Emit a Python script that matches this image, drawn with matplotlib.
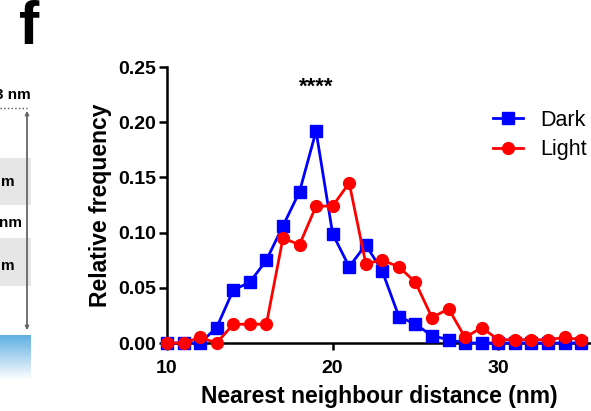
import numpy as np
import matplotlib
matplotlib.use("Agg")
from matplotlib import pyplot as plt
from matplotlib.patches import Rectangle, FancyArrowPatch

plt.rcParams['font.family'] = ['Liberation Sans', 'DejaVu Sans']

# nearest neighbour distance (nm) and relative frequencies
distance = list(range(10, 36))
dark = [0, 0, 0, 0.014, 0.048, 0.055, 0.075, 0.106, 0.137, 0.192,
        0.099, 0.069, 0.089, 0.065, 0.024, 0.017, 0.0066, 0.003, 0, 0,
        0, 0, 0, 0, 0, 0]
light = [0, 0, 0.005, 0, 0.017, 0.017, 0.017, 0.095, 0.089, 0.124,
         0.124, 0.145, 0.072, 0.075, 0.069, 0.055, 0.023, 0.031, 0.005, 0.014,
         0.003, 0.003, 0.003, 0.003, 0.005, 0.003]
series_names = ['Dark', 'Light']
xticks = [10, 20, 30]
yticks = [0.00, 0.05, 0.10, 0.15, 0.20, 0.25]

W, H = 591, 411
fig = plt.figure(figsize=(W / 100, H / 100), dpi=100)

# ---- left partial panel (cropped schematic) ----
bg = fig.add_axes([0, 0, 1, 1])
bg.set_xlim(0, W)
bg.set_ylim(H, 0)
bg.axis('off')
bg.add_patch(Rectangle((0, 158), 31, 47, color='#e6e6e6', lw=0))
bg.add_patch(Rectangle((0, 238), 31, 48, color='#e6e6e6', lw=0))
grad = np.linspace(0, 1, 100).reshape(-1, 1)
top = np.array([95, 175, 225]) / 255
img = top[None, None, :] * (1 - grad[..., None]) + np.ones(3) * grad[..., None]
bg.imshow(img, extent=(0, 31, 380, 335), aspect='auto', zorder=1)
bg.plot([0, 27], [108, 108], ls=':', color='#555555', lw=1)
bg.add_patch(FancyArrowPatch((27, 108), (27, 333), arrowstyle='<|-|>',
                             mutation_scale=5, color='#666666', lw=1.3))
bg.text(31, 95, '3 nm', ha='right', va='center', fontsize=11, fontweight='bold')
bg.text(15, 182, 'm', ha='right', va='center', fontsize=11, fontweight='bold')
bg.text(22, 223, 'nm', ha='right', va='center', fontsize=11, fontweight='bold')
bg.text(15, 266, 'm', ha='right', va='center', fontsize=11, fontweight='bold')
bg.text(29, 29, 'f', ha='center', va='center', fontsize=44, fontweight='bold')

# ---- main chart ----
ax = fig.add_axes([167 / W, 1 - 343 / H, 1 - 167 / W, (343 - 67) / H])
ax.plot(distance, dark, color='#0000ff', marker='s', markersize=8.5, lw=2,
        label=series_names[0], clip_on=False, zorder=3)
ax.plot(distance, light, color='#ff0000', marker='o', markersize=8.5, lw=2,
        label=series_names[1], clip_on=False, zorder=4)

ax.set_xlim(10, 35.6)
ax.set_ylim(0, 0.25)
ax.set_xticks(xticks)
ax.set_yticks(yticks)
ax.set_yticklabels([f'{v:.2f}' for v in yticks])
for s in ['top', 'right']:
    ax.spines[s].set_visible(False)
for s in ['left', 'bottom']:
    ax.spines[s].set_linewidth(1.8)
ax.tick_params(axis='both', width=1.8, length=5, labelsize=14)
ax.tick_params(axis='x', pad=7)
ax.tick_params(axis='y', length=6, pad=2)
for lab in ax.get_xticklabels() + ax.get_yticklabels():
    lab.set_fontweight('bold')

ax.set_xlabel('Nearest neighbour distance (nm)', fontsize=16.5,
              fontweight='bold', labelpad=6)
ax.set_ylabel('Relative frequency', fontsize=16.5, fontweight='bold', labelpad=4)

ax.text(19, 0.232, '****', ha='center', va='center', fontsize=16, fontweight='bold')

ax.legend(loc='center left', bbox_to_anchor=(493 / W, 1 - 135 / H),
          bbox_transform=fig.transFigure, frameon=False, fontsize=15.5,
          handlelength=1.4, handletextpad=0.8, labelspacing=0.4,
          borderpad=0, borderaxespad=0)

fig.savefig('out.png', dpi=100)
